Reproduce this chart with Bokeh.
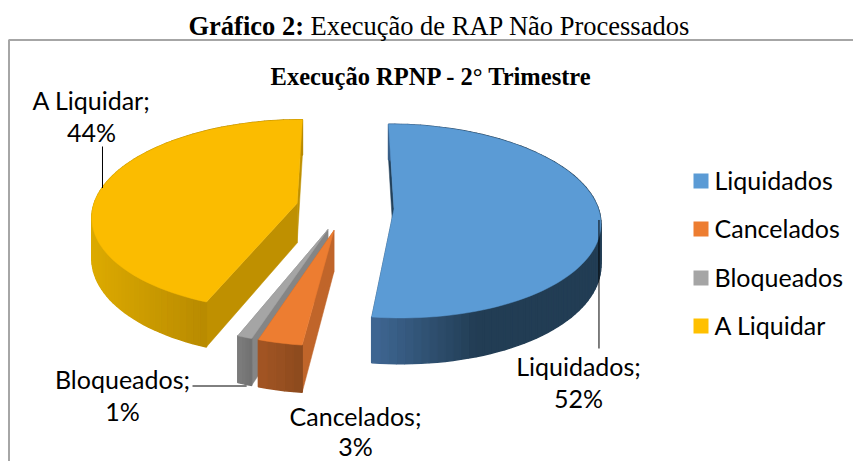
import math
from bokeh.plotting import figure
from bokeh.models import Range1d
from bokeh.core.properties import value
from bokeh.embed import file_html
from bokeh.resources import INLINE

# ---- data ----
categories = ["Liquidados", "Cancelados", "Bloqueados", "A Liquidar"]
percents = [52, 3, 1, 44]
page_title_bold = "Gráfico 2:"
page_title_rest = "Execução de RAP Não Processados"
chart_title = "Execução RPNP - 2° Trimestre"

# ---- styles ----
top_colors = ["#5b9bd5", "#ed7d31", "#a5a5a5", "#fbbc00"]
radial_colors = ["#22405a", "#c0652a", "#858585", "#bf9000"]
side_left = ["#3f6794", "#a35524", "#7d7d7d", "#dcaa00"]
side_right = ["#223d54", "#8c4a1d", "#707070", "#b88a00"]
legend_colors = ["#5b9bd5", "#ed7d31", "#a5a5a5", "#ffc000"]
LABEL_FONT = "Lato"
SERIF = "Liberation Serif"

# ---- projection of the exploded 3-D pie (page pixels) ----
CX, CY, R, EXPLODE, RY, PERSP, DEPTH = 344.5, 207.0, 204.0, 49.0, 95.0, 0.125, 40.0


def project(theta_deg, radius, mid_deg, lower=False):
    t, m = math.radians(theta_deg), math.radians(mid_deg)
    X = radius * math.sin(t) + EXPLODE * math.sin(m)
    Z = radius * math.cos(t) + EXPLODE * math.cos(m)
    s = 1.0 / (1.0 + PERSP * Z / R)
    x = CX + X * s
    y = CY - RY * (Z / R) * s
    if lower:
        y += DEPTH * s
    return x, y


def hexmix(a, b, f):
    ca = [int(a[i:i + 2], 16) for i in (1, 3, 5)]
    cb = [int(b[i:i + 2], 16) for i in (1, 3, 5)]
    return "#%02x%02x%02x" % tuple(round(u + (v - u) * f) for u, v in zip(ca, cb))


total = sum(percents)
bounds = [0.0]
for v in percents:
    bounds.append(bounds[-1] + 360.0 * v / total)

W, H = 853, 461
p = figure(width=W, height=H, x_range=Range1d(0, W), y_range=Range1d(H, 0),
           output_backend="svg", toolbar_location=None, min_border=0)
p.axis.visible = False
p.grid.visible = False
p.outline_line_color = None
p.background_fill_color = "white"
p.border_fill_color = "white"

# frame
p.line([8.5, 8.5, 853], [461, 39.5, 39.5], line_color="#a6a6a6", line_width=2)

# slices, back ones first
for i in (3, 0, 2, 1):
    a0, a1 = bounds[i], bounds[i + 1]
    mid = (a0 + a1) / 2
    n = max(4, int((a1 - a0) / 2))
    thetas = [a0 + (a1 - a0) * k / n for k in range(n + 1)]
    for th in (a0, a1):
        q = [project(0, 0, mid), project(th, R, mid), project(th, R, mid, True), project(0, 0, mid, True)]
        p.patch([c[0] for c in q], [c[1] for c in q], fill_color=radial_colors[i],
                line_color=radial_colors[i], line_width=0.5)
    xs, ys, cols = [], [], []
    rim = [project(t, R, mid) for t in thetas]
    low = [project(t, R, mid, True) for t in thetas]
    front = [c[0] for c, t in zip(rim, thetas) if math.cos(math.radians(t)) < 0.1]
    fl, fr = min(front), max(front)
    span = (fr - fl) or 1.0
    for k in range(n):
        xs.append([rim[k][0], rim[k + 1][0], low[k + 1][0], low[k][0]])
        ys.append([rim[k][1], rim[k + 1][1], low[k + 1][1], low[k][1]])
        f = min(1.0, max(0.0, ((rim[k][0] + rim[k + 1][0]) / 2 - fl) / span))
        cols.append(hexmix(side_left[i], side_right[i], min(1.0, f * 2.2) if i == 0 else f))
    p.patches(xs, ys, fill_color=cols, line_color=cols, line_width=1.5)
    top = [project(0, 0, mid)] + rim
    p.patch([c[0] for c in top], [c[1] for c in top], fill_color=top_colors[i],
            line_color=top_colors[i], line_width=0.5)


def txt(x, y, s, font, size, align="center", style="normal"):
    p.text([x], [y], text=[s], text_font=value(font), text_font_size=value(f"{size}px"),
           text_align=align, text_baseline="middle", text_color="black", text_font_style=style)


# titles
txt(188, 25, page_title_bold, SERIF, 26.5, "left", "bold")
txt(310, 25, page_title_rest, SERIF, 26.5, "left")
txt(431, 76, chart_title, SERIF, 24.5, "center", "bold")

# data labels and leaders
LBL = 25
label_pos = [(578, 365, 578, 397), (355, 415, 355, 445), (122, 378, 122, 410), (91, 99, 91, 131)]
for i, (x1, y1, x2, y2) in enumerate(label_pos):
    txt(x1, y1, categories[i] + ";", LABEL_FONT, LBL)
    txt(x2, y2, f"{percents[i]}%", LABEL_FONT, LBL)

mid0 = (bounds[0] + bounds[1]) / 2
ax, ay = project(mid0, R, mid0)
p.line([ax - 1, ax - 1], [ay + 5, 348], line_color="black", line_width=1)
mid3 = (bounds[3] + bounds[4]) / 2
ax, ay = project(mid3, R, mid3)
p.line([ax - 1, ax - 1], [146, ay + 2], line_color="black", line_width=1)
mid2 = (bounds[2] + bounds[3]) / 2
ax, ay = project(mid2, R, mid2, True)
p.line([192, ax + 2], [385.5, 385.5], line_color="black", line_width=1)

# legend
leg_y = [180.5, 228.5, 277.5, 325.5]
for c, name, y in zip(legend_colors, categories, leg_y):
    p.quad(left=[693], right=[708], top=[y - 7.5], bottom=[y + 7.5], fill_color=c, line_color=None)
    txt(714, y - 1.5, name, LABEL_FONT, LBL, "left")

open("out.html", "w").write(file_html(p, INLINE))
